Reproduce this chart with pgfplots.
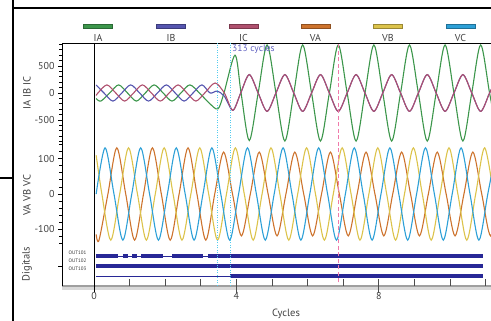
\documentclass[border=0pt]{standalone}
\usepackage{pgfplots}
\pgfplotsset{compat=1.18}
\usepackage{fontspec}
\setmainfont{PT Sans}
\definecolor{cIA}{HTML}{3C964B}
\definecolor{cIB}{HTML}{5555AF}
\definecolor{cIC}{HTML}{AF506E}
\definecolor{cVA}{HTML}{CD732D}
\definecolor{cVB}{HTML}{DCC34B}
\definecolor{cVC}{HTML}{2DA0D7}
\definecolor{cDig}{HTML}{282896}
\definecolor{cCyan}{HTML}{55CCEE}
\definecolor{cPink}{HTML}{F07AAA}
\definecolor{cTxt}{HTML}{6060C0}
\pgfplotsset{
  panel/.style={scale only axis, width=429pt, xmin=-0.9, xmax=11.15,
    anchor=south west, axis line style={draw=none}, xtick=\empty,
    ytick pos=left, tick align=outside, major tick length=4pt, minor tick length=2.5pt,
    tick style={black, line width=0.6pt},
    yticklabel style={font=\fontsize{10}{12}\selectfont, text=black!75},
    /pgf/number format/assume math mode=true},
  wave/.style={smooth, no marks, line width=1.1pt},
}
\begin{document}
\begin{tikzpicture}[x=1pt,y=1pt]
\path[use as bounding box] (0,0) rectangle (491,321);
% outer frame
\draw[black, line width=1.2pt] (13,325) -- (13,313) -- (495,313);
\draw[black, line width=1.2pt] (13,313) -- (13,-5);
\draw[black, line width=1.2pt] (-2,143) -- (13,143);
% legend
\foreach \n/\c/\x in {IA/cIA/98, IB/cIB/171, IC/cIC/243.5, VA/cVA/315.5, VB/cVB/388, VC/cVC/460.5} {
  \filldraw[fill=\c, draw=\c!70!black, line width=0.4pt] (\x-14.5,293) rectangle (\x+14.5,297);
  \node[font=\fontsize{10}{12}\selectfont, text=black!75] at (\x,283) {\n};
}
% currents
\begin{axis}[panel, at={(62pt,178pt)}, height=100pt, ymin=-926, ymax=926,
  ytick={-500,0,500}, minor ytick={-900,-800,...,900}]
\addplot[wave, cIA] coordinates {(0.06,-102)(0.19,-150)(0.44,0)(0.69,150)(0.94,0)(1.19,-150)(1.44,0)(1.69,150)(1.94,0)(2.19,-150)(2.44,0)(2.69,150)(2.96,0)(3.24,-190)(3.48,-295)(3.65,0)(3.96,700)(4.13,0)(4.36,-880)(4.61,0)(4.86,890)(5.11,0)(5.36,-890)(5.61,0)(5.86,890)(6.11,0)(6.36,-890)(6.61,0)(6.86,890)(7.11,0)(7.36,-890)(7.61,0)(7.86,890)(8.11,0)(8.36,-890)(8.61,0)(8.86,890)(9.11,0)(9.36,-890)(9.61,0)(9.86,890)(10.11,0)(10.36,-890)(10.61,0)(10.86,890)(11.11,0)(11.36,-890)};
\addplot[wave, cIB] coordinates {(0.06,147)(0.28,0)(0.53,-150)(0.78,0)(1.03,150)(1.28,0)(1.53,-150)(1.78,0)(2.03,150)(2.28,0)(2.53,-150)(2.78,0)(3.03,150)(3.26,0)(3.46,35)(3.66,-60)(3.90,-320)(4.12,0)(4.36,340)(4.61,0)(4.86,-340)(5.11,0)(5.36,340)(5.61,0)(5.86,-340)(6.11,0)(6.36,340)(6.61,0)(6.86,-340)(7.11,0)(7.36,340)(7.61,0)(7.86,-340)(8.11,0)(8.36,340)(8.61,0)(8.86,-340)(9.11,0)(9.36,340)(9.61,0)(9.86,-340)(10.11,0)(10.36,340)(10.61,0)(10.86,-340)(11.11,0)(11.36,340)};
\addplot[wave, cIC] coordinates {(0.06,-46)(0.11,0)(0.36,150)(0.61,0)(0.86,-150)(1.11,0)(1.36,150)(1.61,0)(1.86,-150)(2.11,0)(2.36,150)(2.61,0)(2.86,-150)(3.11,0)(3.40,185)(3.66,0)(3.90,-320)(4.12,0)(4.36,340)(4.61,0)(4.86,-340)(5.11,0)(5.36,340)(5.61,0)(5.86,-340)(6.11,0)(6.36,340)(6.61,0)(6.86,-340)(7.11,0)(7.36,340)(7.61,0)(7.86,-340)(8.11,0)(8.36,340)(8.61,0)(8.86,-340)(9.11,0)(9.36,340)(9.61,0)(9.86,-340)(10.11,0)(10.36,340)(10.61,0)(10.86,-340)(11.11,0)(11.36,340)};
\end{axis}
% voltages
\begin{axis}[panel, at={(62pt,76pt)}, height=102pt, ymin=-143.7, ymax=143.7,
  ytick={-100,0,100}, minor ytick={-140,-120,...,140}]
\addplot[wave, cVA] coordinates {(0.06,-114)(0.14,-130)(0.39,0)(0.64,130)(0.89,0)(1.14,-130)(1.39,0)(1.64,130)(1.89,0)(2.14,-130)(2.39,0)(2.64,130)(2.89,0)(3.14,-130)(3.39,0)(3.64,118)(3.89,0)(4.14,-118)(4.39,0)(4.64,118)(4.89,0)(5.14,-118)(5.39,0)(5.64,118)(5.89,0)(6.14,-118)(6.39,0)(6.64,118)(6.89,0)(7.14,-118)(7.39,0)(7.64,118)(7.89,0)(8.14,-118)(8.39,0)(8.64,118)(8.89,0)(9.14,-118)(9.39,0)(9.64,118)(9.89,0)(10.14,-118)(10.39,0)(10.64,118)(10.89,0)(11.14,-118)(11.39,0)};
\addplot[wave, cVB] coordinates {(0.06,109)(0.22,0)(0.47,-130)(0.72,0)(0.97,130)(1.22,0)(1.47,-130)(1.72,0)(1.97,130)(2.22,0)(2.47,-130)(2.72,0)(2.97,130)(3.22,0)(3.47,-130)(3.72,0)(3.97,130)(4.22,0)(4.47,-130)(4.72,0)(4.97,130)(5.22,0)(5.47,-130)(5.72,0)(5.97,130)(6.22,0)(6.47,-130)(6.72,0)(6.97,130)(7.22,0)(7.47,-130)(7.72,0)(7.97,130)(8.22,0)(8.47,-130)(8.72,0)(8.97,130)(9.22,0)(9.47,-130)(9.72,0)(9.97,130)(10.22,0)(10.47,-130)(10.72,0)(10.97,130)(11.22,0)};
\addplot[wave, cVC] coordinates {(0.06,0)(0.31,130)(0.56,0)(0.81,-130)(1.06,0)(1.31,130)(1.56,0)(1.81,-130)(2.06,0)(2.31,130)(2.56,0)(2.81,-130)(3.06,0)(3.31,130)(3.56,0)(3.81,-130)(4.06,0)(4.31,130)(4.56,0)(4.81,-130)(5.06,0)(5.31,130)(5.56,0)(5.81,-130)(6.06,0)(6.31,130)(6.56,0)(6.81,-130)(7.06,0)(7.31,130)(7.56,0)(7.81,-130)(8.06,0)(8.31,130)(8.56,0)(8.81,-130)(9.06,0)(9.31,130)(9.56,0)(9.81,-130)(10.06,0)(10.31,130)(10.56,0)(10.81,-130)(11.06,0)(11.31,130)};
\end{axis}
% digitals
\begin{axis}[panel, at={(62pt,35pt)}, height=41pt, ymin=0, ymax=41,
  ytick={20}, yticklabels={{}}, unbounded coords=jump]
\addplot[cDig, no marks, line width=0.9pt] coordinates {(0.05,30)(10.93,30)};
\addplot[cDig, no marks, line width=3.3pt] coordinates {(0.05,30)(0.67,30) (nan,nan) (0.81,30)(0.96,30) (nan,nan) (1.07,30)(1.21,30) (nan,nan) (1.32,30)(1.94,30) (nan,nan) (2.19,30)(3.06,30) (nan,nan) (3.20,30)(10.93,30)};
\addplot[cDig, no marks, line width=3.3pt] coordinates {(0.05,20)(10.93,20)};
\addplot[cDig, no marks, line width=0.9pt] coordinates {(0.05,10)(3.82,10)};
\addplot[cDig, no marks, line width=3.3pt] coordinates {(3.82,10)(10.93,10)};
\end{axis}
% frame / x axis
\begin{axis}[at={(62pt,35pt)}, anchor=south west, scale only axis, width=429pt, height=243pt,
  xmin=-0.9, xmax=11.15, ymin=0, ymax=1,
  axis x line*=bottom, axis y line*=left,
  x axis line style={draw=gray!75, line width=2pt, shorten >=-10pt},
  y axis line style={draw=black, line width=0.9pt},
  ytick=\empty,
  xtick={0,4,8}, xtick style={draw=none},
  xticklabel style={font=\fontsize{10}{12}\selectfont, text=black!75, yshift=-3pt},
  /pgf/number format/assume math mode=true, clip=false]
\draw[gray!30, line width=3pt, yshift=-2.5pt] (rel axis cs:0,0) -- (rel axis cs:1.02,0);
\draw[black, line width=0.9pt] (rel axis cs:0,1) -- (rel axis cs:1.02,1);
\draw[black, line width=0.8pt] (axis cs:0,1) -- ([yshift=-6pt]axis cs:0,0);
\draw[black!70, line width=1.1pt] ([yshift=7pt]axis cs:1,0) -- (axis cs:1,0);
\draw[black!70, line width=1.1pt] ([yshift=7pt]axis cs:2,0) -- (axis cs:2,0);
\draw[black!70, line width=1.1pt] ([yshift=7pt]axis cs:3,0) -- (axis cs:3,0);
\draw[black!70, line width=1.1pt] ([yshift=7pt]axis cs:5,0) -- (axis cs:5,0);
\draw[black!70, line width=1.1pt] ([yshift=7pt]axis cs:6,0) -- (axis cs:6,0);
\draw[black!70, line width=1.1pt] ([yshift=7pt]axis cs:7,0) -- (axis cs:7,0);
\draw[black!70, line width=1.1pt] ([yshift=7pt]axis cs:9,0) -- (axis cs:9,0);
\draw[black!70, line width=1.1pt] ([yshift=7pt]axis cs:10,0) -- (axis cs:10,0);
\draw[black!70, line width=1.1pt] ([yshift=7pt]axis cs:11,0) -- (axis cs:11,0);
\draw[black!70, line width=1.1pt] ([yshift=-7pt]axis cs:4,0) -- ([yshift=7pt]axis cs:4,0);
\draw[black!70, line width=1.1pt] ([yshift=-7pt]axis cs:8,0) -- ([yshift=7pt]axis cs:8,0);
\draw[cCyan, line width=0.9pt, dash pattern=on 1.2pt off 1.3pt] (axis cs:3.48,0) -- (axis cs:3.48,1);
\draw[cCyan, line width=0.9pt, dash pattern=on 1.2pt off 1.3pt] (axis cs:3.82,0) -- (axis cs:3.82,1);
\draw[cPink, line width=1pt, dash pattern=on 4pt off 2.5pt] (axis cs:6.88,0.015) -- (axis cs:6.88,1);
\end{axis}
% texts
\begin{scope}[every node/.style={font=\fontsize{10.5}{12}\selectfont, text=black!75}]
\node[rotate=90] at (27,228) {IA IB IC};
\node[rotate=90] at (27,126) {VA VB VC};
\node[rotate=90] at (27,57) {Digitals};
\node at (286,7) {Cycles};
\end{scope}
\begin{scope}[every node/.style={font=\fontsize{5}{6}\selectfont, text=black!80, inner sep=0pt}]
\node at (77.5,68) {OUT101};
\node at (77.5,60.3) {OUT102};
\node at (77.5,52.7) {OUT103};
\end{scope}
\node[anchor=west, text=cTxt, font=\fontsize{9.5}{11}\selectfont, inner sep=0pt] at (232,272) {313 cycles};
\end{tikzpicture}
\end{document}
